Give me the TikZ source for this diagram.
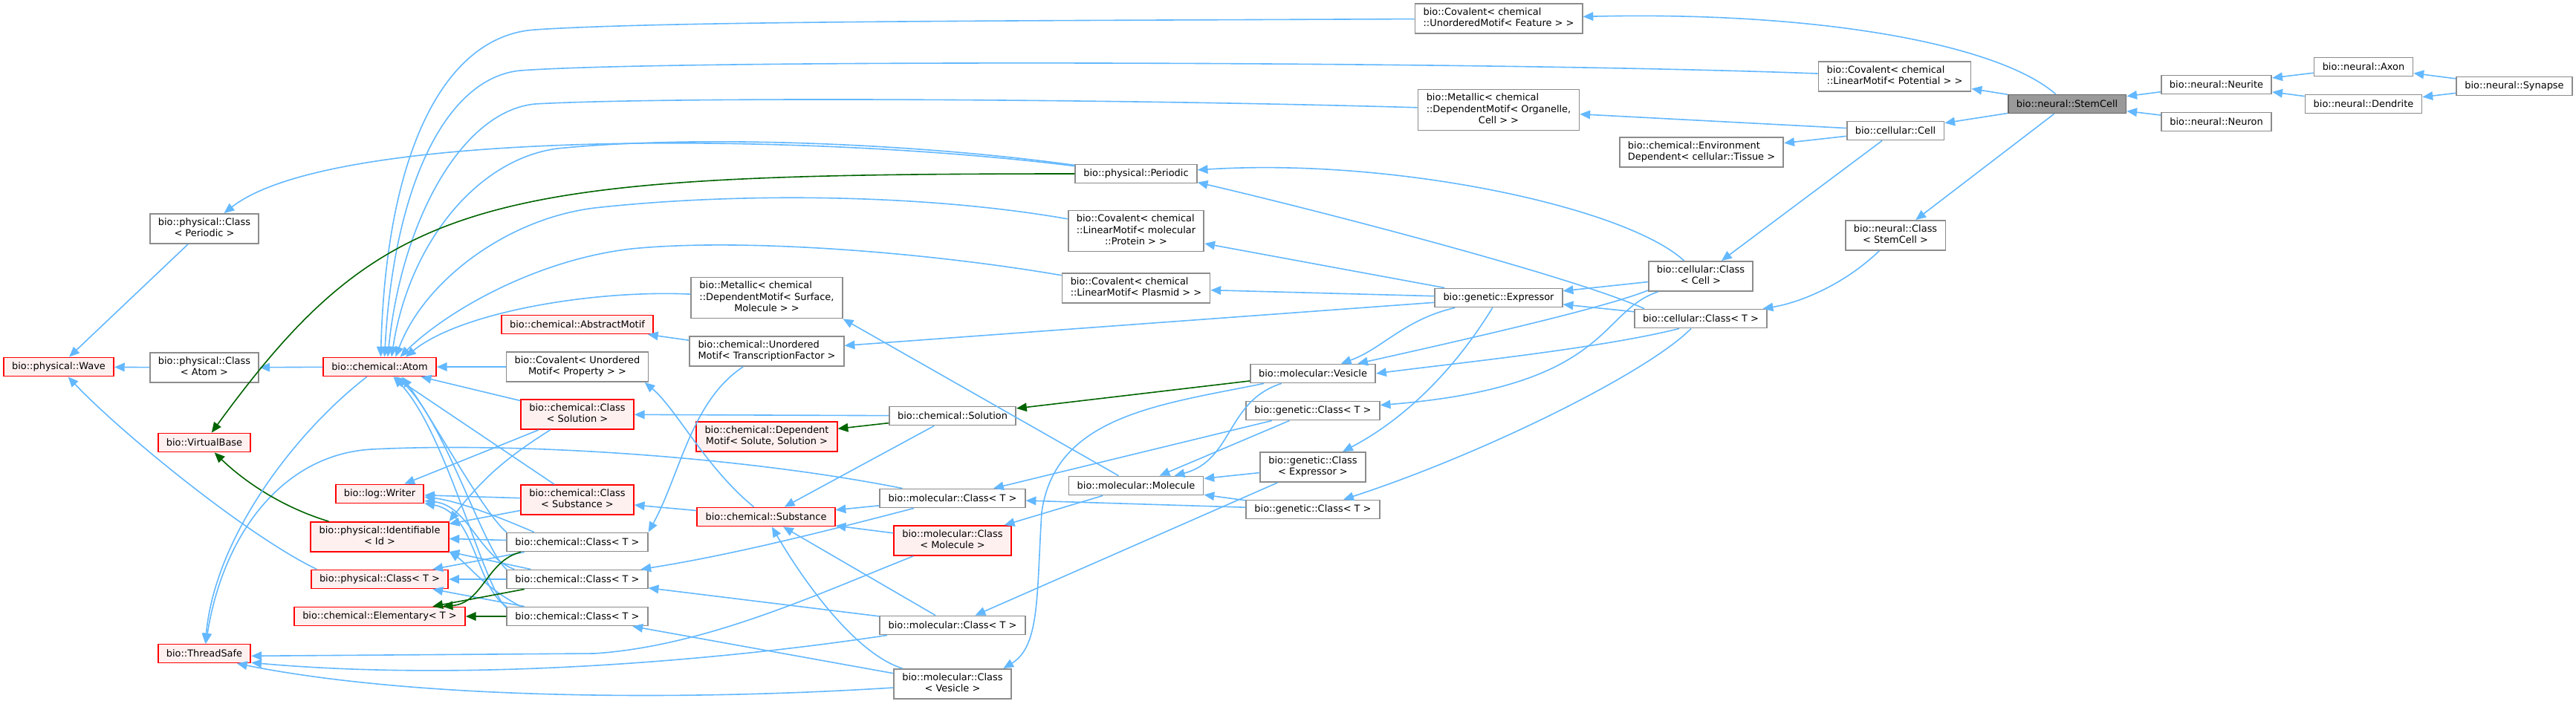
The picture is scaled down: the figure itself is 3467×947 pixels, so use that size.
\documentclass[tikz,border=0pt]{standalone}
\usepackage{fontspec}
\setmainfont{DejaVu Sans}
\usepackage{tikz}
\usetikzlibrary{arrows.meta}

\definecolor{edgeblue}{HTML}{63B8FF}
\definecolor{edgegreen}{HTML}{006400}
\definecolor{boxgray}{HTML}{8C8C8C}
\definecolor{truncfill}{HTML}{FFF0F0}
\definecolor{curfill}{HTML}{999999}
\definecolor{curdraw}{HTML}{666666}

\tikzstyle{cls} = [rectangle, draw=boxgray, fill=white, line width=0.45mm,
inner xsep=2.8mm, inner ysep=0.5mm,
minimum height=6.25mm,
font=\fontsize{9.2}{10.7}\selectfont]
\tikzstyle{trunc} = [cls, draw=red, fill=truncfill]
\tikzstyle{current} = [cls, draw=curdraw, fill=curfill]
\tikzstyle{two} = [minimum height=10mm]
\tikzstyle{three} = [minimum height=13.75mm]
\tikzstyle{arrow} = [draw=edgeblue, line width=0.4mm, -{Triangle[length=3.45mm, width=2.9mm]}]
\tikzstyle{prot} = [arrow, draw=edgegreen]

% class label: upper lines flush left, last line centred
\newcommand{\twolines}[2]{\begin{tabular}{@{}l@{}}#1\\\multicolumn{1}{@{}c@{}}{#2}\end{tabular}}

\begin{document}
\begin{tikzpicture}[x=0.25mm, y=0.25mm, node distance=12.5mm]
\useasboundingbox (0,0) rectangle (3467,-947);

% physical / chemical bases
\node (wave) [trunc] at (79,-494) {bio::physical::Wave};
\node (clsperiodic) [cls, two] at (275,-308) {\twolines{bio::physical::Class}{< Periodic >}};
\node (clsatom) [cls, two] at (275,-495) {\twolines{bio::physical::Class}{< Atom >}};
\node (vbase) [trunc] at (275,-596) {bio::VirtualBase};
\node (tsafe) [trunc] at (275,-880) {bio::ThreadSafe};
\node (atom) [trunc] at (511,-494) {bio::chemical::Atom};
\node (writer) [trunc] at (511,-665) {bio::log::Writer};
\node (ident) [trunc, two] at (511,-723) {\twolines{bio::physical::Identifiable}{< Id >}};
\node (physcls) [trunc] at (511,-780) {bio::physical::Class< T >};
\node (elem) [trunc] at (511,-830) {bio::chemical::Elementary< T >};

\node (abstr) [trunc] at (777,-437) {bio::chemical::AbstractMotif};
\node (property) [cls, two] at (777,-494) {\twolines{bio::Covalent< Unordered}{Motif< Property > >}};
\node (clssolution) [trunc, two] at (777,-558) {\twolines{bio::chemical::Class}{< Solution >}};
\node (clssubstance) [trunc, two] at (777,-673) {\twolines{bio::chemical::Class}{< Substance >}};
\node (chemclsA) [cls] at (777,-730) {bio::chemical::Class< T >};
\node (chemclsB) [cls, below of=chemclsA] {bio::chemical::Class< T >};
\node (chemclsC) [cls, below of=chemclsB] {bio::chemical::Class< T >};

\node (surface) [cls, three] at (1032,-401) {\twolines{bio::Metallic< chemical\\::DependentMotif< Surface,}{Molecule > >}};
\node (transfac) [cls, two] at (1032,-473) {\twolines{bio::chemical::Unordered}{Motif< TranscriptionFactor >}};
\node (solute) [trunc, two] at (1032,-588) {\twolines{bio::chemical::Dependent}{Motif< Solute, Solution >}};
\node (substance) [trunc] at (1031,-696) {bio::chemical::Substance};

% molecular
\node (solution) [cls] at (1282,-560) {bio::chemical::Solution};
\node (molclsA) [cls] at (1282,-671) {bio::molecular::Class< T >};
\node (clsmolecule) [trunc, two] at (1282,-728) {\twolines{bio::molecular::Class}{< Molecule >}};
\node (molclsB) [cls] at (1282,-842) {bio::molecular::Class< T >};
\node (clsvesicle) [cls, two] at (1282,-921) {\twolines{bio::molecular::Class}{< Vesicle >}};

\node (periodic) [cls] at (1529,-234) {bio::physical::Periodic};
\node (protein) [cls, three] at (1529,-311) {\twolines{bio::Covalent< chemical\\::LinearMotif< molecular}{::Protein > >}};
\node (plasmid) [cls, two] at (1529,-388) {\twolines{bio::Covalent< chemical}{::LinearMotif< Plasmid > >}};
\node (molecule) [cls] at (1529,-654) {bio::molecular::Molecule};

% genetic
\node (vesicle) [cls] at (1767,-503) {bio::molecular::Vesicle};
\node (genclsA) [cls] at (1767,-553) {bio::genetic::Class< T >};
\node (clsexpressor) [cls, two] at (1767,-629) {\twolines{bio::genetic::Class}{< Expressor >}};
\node (genclsB) [cls] at (1767,-686) {bio::genetic::Class< T >};

\node (feature) [cls, two] at (2017,-25) {\twolines{bio::Covalent< chemical}{::UnorderedMotif< Feature > >}};
\node (organelle) [cls, three] at (2017,-148) {\twolines{bio::Metallic< chemical\\::DependentMotif< Organelle,}{Cell > >}};
\node (expressor) [cls] at (2017,-401) {bio::genetic::Expressor};

% cellular / neural
\node (tissue) [cls, two] at (2290,-205) {\twolines{bio::chemical::Environment}{Dependent< cellular::Tissue >}};
\node (clscell) [cls, two] at (2289,-372) {\twolines{bio::cellular::Class}{< Cell >}};
\node (cellclsT) [cls] at (2289,-429) {bio::cellular::Class< T >};

\node (potential) [cls, two] at (2550,-103) {\twolines{bio::Covalent< chemical}{::LinearMotif< Potential > >}};
\node (cell) [cls] at (2551,-176) {bio::cellular::Cell};
\node (clsstemcell) [cls, two] at (2551,-317) {\twolines{bio::neural::Class}{< StemCell >}};

\node (stemcell) [current] at (2782,-140) {bio::neural::StemCell};
\node (neurite) [cls] at (2983,-114) {bio::neural::Neurite};
\node (neuron) [cls, below of=neurite] {bio::neural::Neuron};
\node (axon) [cls] at (3181,-90) {bio::neural::Axon};
\node (dendrite) [cls, below of=axon] {bio::neural::Dendrite};
\node (synapse) [cls] at (3384,-116) {bio::neural::Synapse};

% neural part
\draw [arrow] (synapse) -- (axon);
\draw [arrow] (synapse) -- (dendrite);
\draw [arrow] (axon) -- (neurite);
\draw [arrow] (dendrite) -- (neurite);
\draw [arrow] (neurite) -- (stemcell);
\draw [arrow] (neuron) -- (stemcell);
\draw [arrow] (stemcell) .. controls (2690,-60) and (2450,-15) .. (feature);
\draw [arrow] (stemcell) -- (potential);
\draw [arrow] (stemcell) -- (cell);
\draw [arrow] (stemcell) -- (clsstemcell);

% cellular part
\draw [arrow] (cell) -- (organelle);
\draw [arrow] (cell) -- (tissue);
\draw [arrow] (cell) -- (clscell);
\draw [arrow] (clsstemcell) .. controls (2480,-385) and (2420,-408) .. (cellclsT);
\draw [arrow] (clscell) -- (expressor);
\draw [arrow] (cellclsT) -- (expressor);
\draw [arrow] (clscell) .. controls (2190,-280) and (1880,-212) .. (periodic);
\draw [arrow] (cellclsT.170) .. controls (2110,-370) and (1760,-280) .. (periodic.-8);
\draw [arrow] (clscell.-165) .. controls (2170,-410) and (2050,-440) .. (vesicle);
\draw [arrow] (clscell.-160) .. controls (2150,-420) and (2170,-520) .. (genclsA);
\draw [arrow] (cellclsT.-155) .. controls (2150,-470) and (1950,-490) .. (vesicle.east);
\draw [arrow] (cellclsT) .. controls (2220,-500) and (2000,-610) .. (genclsB);

% expressor
\draw [arrow] (expressor) -- (protein);
\draw [arrow] (expressor) -- (plasmid);
\draw [arrow] (expressor) -- (transfac);
\draw [arrow] (expressor) .. controls (1890,-430) and (1860,-470) .. (vesicle);
\draw [arrow] (expressor) .. controls (1950,-510) and (1880,-570) .. (clsexpressor);

% vesicle and genetic classes
\draw [prot] (vesicle) -- (solution);
\draw [arrow] (vesicle) .. controls (1650,-540) and (1660,-620) .. (molecule);
\draw [arrow] (vesicle) .. controls (1560,-545) and (1420,-560) .. (1402,-690) .. controls (1395,-800) and (1400,-870) .. (clsvesicle.17);
\draw [arrow] (genclsA) -- (molecule);
\draw [arrow] (genclsA) -- (molclsA);
\draw [arrow] (clsexpressor) -- (molecule);
\draw [arrow] (clsexpressor) -- (molclsB);
\draw [arrow] (genclsB) -- (molecule);
\draw [arrow] (genclsB) -- (molclsA);
\draw [arrow] (molecule) -- (surface.south east);
\draw [arrow] (molecule) -- (clsmolecule);

% molecular classes
\draw [arrow] (molclsA) -- (substance);
\draw [arrow] (clsmolecule) -- (substance);
\draw [arrow] (molclsB) -- (substance);
\draw [arrow] (clsvesicle) .. controls (1150,-880) and (1080,-780) .. (substance);
\draw [arrow] (molclsA) .. controls (1150,-705) and (1000,-745) .. (chemclsB);
\draw [arrow] (molclsB) -- (chemclsB);
\draw [arrow] (clsvesicle) -- (chemclsC);
\draw [arrow] (molclsA) .. controls (1000,-615) and (700,-595) .. (500,-605) .. controls (380,-612) and (300,-720) .. (tsafe);
\draw [arrow] (clsmolecule) .. controls (1100,-800) and (950,-870) .. (800,-880) -- (tsafe.-3);
\draw [arrow] (molclsB) .. controls (1000,-885) and (650,-920) .. (tsafe.-11);
\draw [arrow] (clsvesicle) .. controls (900,-945) and (550,-940) .. (tsafe.-17);

% solution, substance, motifs
\draw [arrow] (solution) -- (substance);
\draw [arrow] (solution) -- (clssolution);
\draw [prot] (solution) -- (solute);
\draw [arrow] (substance) -- (clssubstance);
\draw [arrow] (substance) .. controls (950,-630) and (910,-550) .. (property.-13);
\draw [arrow] (transfac) -- (abstr);
\draw [arrow] (transfac) .. controls (930,-540) and (915,-640) .. (chemclsA.north east);

% everything above fans into the atom
\draw [arrow] (feature) .. controls (1400,-28) and (900,-28) .. (720,-40) .. controls (600,-48) and (520,-200) .. (atom.84);
\draw [arrow] (potential) .. controls (2000,-82) and (900,-80) .. (700,-95) .. controls (600,-105) and (530,-250) .. (atom.64);
\draw [arrow] (organelle) .. controls (1500,-133) and (900,-130) .. (720,-140) .. controls (620,-150) and (540,-300) .. (atom.51);
\draw [arrow] (periodic) .. controls (1250,-195) and (950,-180) .. (750,-200) .. controls (640,-215) and (550,-330) .. (atom.40);
\draw [arrow] (protein) .. controls (1250,-262) and (1000,-258) .. (800,-280) .. controls (680,-295) and (570,-380) .. (atom.32);
\draw [arrow] (plasmid) .. controls (1250,-340) and (1000,-320) .. (850,-335) .. controls (720,-350) and (600,-420) .. (atom.26);
\draw [arrow] (surface) .. controls (800,-390) and (620,-420) .. (atom.21);
\draw [arrow] (property) -- (atom);

% chemical classes
\draw [arrow] (clssolution) -- (atom);
\draw [arrow] (clssubstance) -- (atom);
\draw [arrow] (chemclsA.172) .. controls (650,-690) and (580,-560) .. (atom.-24);
\draw [arrow] (chemclsB.172) .. controls (650,-740) and (600,-570) .. (atom.-30);
\draw [arrow] (chemclsC.173) .. controls (650,-790) and (600,-580) .. (atom.-36);
\draw [arrow] (clssolution) -- (writer);
\draw [arrow] (clssolution) to [bend right=10] (ident.north east);
\draw [arrow] (clssubstance) -- (writer);
\draw [arrow] (clssubstance) -- (ident);
\draw [arrow] (chemclsA.167) .. controls (680,-700) and (620,-675) .. (writer.-4);
\draw [arrow] (chemclsB.171) .. controls (645,-750) and (630,-680) .. (writer.-9);
\draw [arrow] (chemclsC.172) .. controls (640,-790) and (640,-690) .. (writer.-12);
\draw [arrow] (chemclsA) -- (ident);
\draw [arrow] (chemclsB) -- (ident);
\draw [arrow] (chemclsC.170) .. controls (650,-790) and (630,-760) .. (ident.-12);
\draw [arrow] (chemclsA) -- (physcls);
\draw [arrow] (chemclsB) -- (physcls);
\draw [arrow] (chemclsC) -- (physcls);
\draw [prot] (chemclsA.-170) .. controls (655,-755) and (650,-812) .. (elem.9);
\draw [prot] (chemclsB) -- (elem);
\draw [prot] (chemclsC) -- (elem);

% left part
\draw [arrow] (atom) -- (clsatom);
\draw [arrow] (clsatom) -- (wave);
\draw [arrow] (clsperiodic) -- (wave);
\draw [arrow] (physcls.171) .. controls (330,-720) and (160,-580) .. (wave);
\draw [arrow] (periodic) .. controls (1100,-180) and (450,-170) .. (clsperiodic);
\draw [prot] (periodic) .. controls (650,-234) and (520,-260) .. (vbase);
\draw [prot] (ident) .. controls (370,-680) and (320,-640) .. (vbase);
\draw [arrow] (atom) .. controls (400,-580) and (290,-720) .. (tsafe);
\end{tikzpicture}
\end{document}
